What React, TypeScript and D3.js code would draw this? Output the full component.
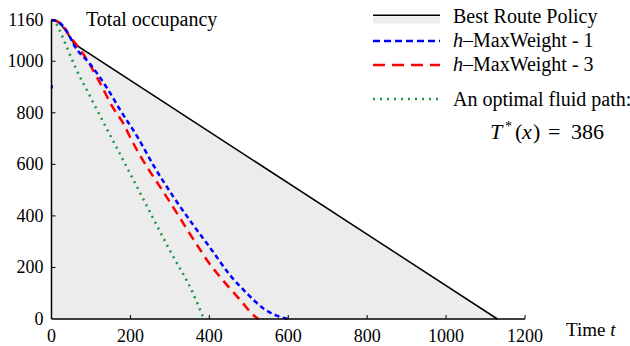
import React from "react";
import * as d3 from "d3";

// time t vs total occupancy
const bestRoute: [number, number][] = [
  [0, 1160], [8, 1158], [16, 1152], [25, 1140], [35, 1120], [46, 1095], [57, 1068], [1130, 0],
];
const maxWeight1: [number, number][] = [
  [0, 1160], [15, 1155], [30, 1135], [45, 1100], [55, 1069], [100, 985],
  [144, 888], [174, 811], [220, 701], [258, 597], [309, 474], [359, 365],
  [406, 268], [452, 171], [495, 100], [537, 41], [571, 13], [600, 0],
];
const maxWeight3: [number, number][] = [
  [0, 1160], [15, 1155], [30, 1135], [45, 1100], [64, 1063], [93, 998],
  [119, 927], [157, 817], [182, 759], [203, 694], [224, 636], [250, 571],
  [275, 513], [321, 403], [347, 339], [372, 280], [397, 222], [423, 171],
  [452, 119], [482, 67], [511, 16], [524, 0],
];
const fluidPath: [number, number][] = [
  [0, 1160], [10, 1150], [20, 1122], [40, 1050], [60, 978], [100, 857],
  [200, 562], [300, 266], [360, 95], [386, 0],
];
// stray blue mark on the y axis
const strayMark: [number, number][] = [[1, 908], [1, 894]];

const xTicks = [0, 200, 400, 600, 800, 1000, 1200];
const yTicks = [0, 200, 400, 600, 800, 1000, 1160];

const legendItems = [
  { label: "Best Route Policy", color: "#000", dash: "", width: 1.5, italicH: false },
  { label: "MaxWeight - 1", color: "#0000ff", dash: "7,4", width: 2.5, italicH: true },
  { label: "MaxWeight - 3", color: "#ff0000", dash: "12,7", width: 2.5, italicH: true },
  { label: "An optimal fluid path:", color: "#1a9641", dash: "2,5", width: 2.5, italicH: false },
];

const font = "Liberation Serif, Times New Roman, serif";

export default function App() {
  const width = 630;
  const height = 346;
  const x = d3.scaleLinear().domain([0, 1200]).range([51.5, 525]);
  const y = d3.scaleLinear().domain([0, 1160]).range([319, 20]);

  const line = d3
    .line<[number, number]>()
    .x((d) => x(d[0]))
    .y((d) => y(d[1]))
    .curve(d3.curveMonotoneX);
  const straight = d3
    .line<[number, number]>()
    .x((d) => x(d[0]))
    .y((d) => y(d[1]));
  const area = d3
    .area<[number, number]>()
    .x((d) => x(d[0]))
    .y0(y(0))
    .y1((d) => y(d[1]));

  const legendLineY = [15.3, 41, 65, 99];
  const legendTextY = [23, 47, 71, 106];
  const tickStyle = { fontFamily: font, fontSize: 18 };
  const textStyle = { fontFamily: font, fontSize: 20 };

  return (
    <svg
      width={width}
      height={height}
      style={{ position: "absolute", left: 0, top: 0, background: "#fff" }}
    >
      <path d={area(bestRoute) ?? ""} fill="#ececec" />
      <path d={straight(bestRoute) ?? ""} fill="none" stroke="#000" strokeWidth={1.5} />
      <path d={line(fluidPath) ?? ""} fill="none" stroke="#1a9641" strokeWidth={2.5} strokeDasharray="2,4.5" />
      <path d={line(maxWeight3) ?? ""} fill="none" stroke="#ff0000" strokeWidth={2.5} strokeDasharray="9,6" />
      <path d={line(maxWeight1) ?? ""} fill="none" stroke="#0000ff" strokeWidth={2.5} strokeDasharray="5,3.5" />
      <path d={straight(strayMark) ?? ""} fill="none" stroke="#0000ff" strokeWidth={2} />

      {/* axes */}
      <line x1={x(0)} x2={x(1200)} y1={y(0)} y2={y(0)} stroke="#000" strokeWidth={1.5} />
      <line x1={x(0)} x2={x(0)} y1={y(0)} y2={y(1160)} stroke="#000" strokeWidth={1.5} />
      {xTicks.map((t) => (
        <g key={"x" + t}>
          {t > 0 && <line x1={x(t)} x2={x(t)} y1={y(0)} y2={y(0) - 4} stroke="#000" strokeWidth={1} />}
          <text x={x(t)} y={342} textAnchor="middle" style={tickStyle}>
            {t}
          </text>
        </g>
      ))}
      {yTicks.map((t) => (
        <g key={"y" + t}>
          {t > 0 && <line x1={x(0)} x2={x(0) + 4} y1={y(t)} y2={y(t)} stroke="#000" strokeWidth={1} />}
          <text x={43.5} y={y(t) + 6} textAnchor="end" style={tickStyle}>
            {t}
          </text>
        </g>
      ))}
      <text x={566} y={336} style={{ fontFamily: font, fontSize: 19 }}>
        Time <tspan fontStyle="italic">t</tspan>
      </text>
      <text x={86} y={26} style={textStyle}>
        Total occupancy
      </text>

      {/* legend */}
      <rect x={373} y={16.5} width={67} height={7} fill="#ececec" />
      {legendItems.map((it, i) => (
        <g key={it.label}>
          <line
            x1={373}
            x2={440}
            y1={legendLineY[i]}
            y2={legendLineY[i]}
            stroke={it.color}
            strokeWidth={it.width}
            strokeDasharray={it.dash}
          />
          <text x={453} y={legendTextY[i]} style={textStyle}>
            {it.italicH && <tspan fontStyle="italic">h</tspan>}
            {it.italicH ? "\u2013" : ""}
            {it.label}
          </text>
        </g>
      ))}
      <text y={139} style={{ fontFamily: font, fontSize: 22 }}>
        <tspan x={490} fontStyle="italic">T</tspan>
        <tspan x={505} y={131} fontSize={14}>*</tspan>
        <tspan x={515} y={139}>(</tspan>
        <tspan x={522} fontStyle="italic">x</tspan>
        <tspan x={533}>)</tspan>
        <tspan x={548}>=</tspan>
        <tspan x={571}>386</tspan>
      </text>
    </svg>
  );
}
